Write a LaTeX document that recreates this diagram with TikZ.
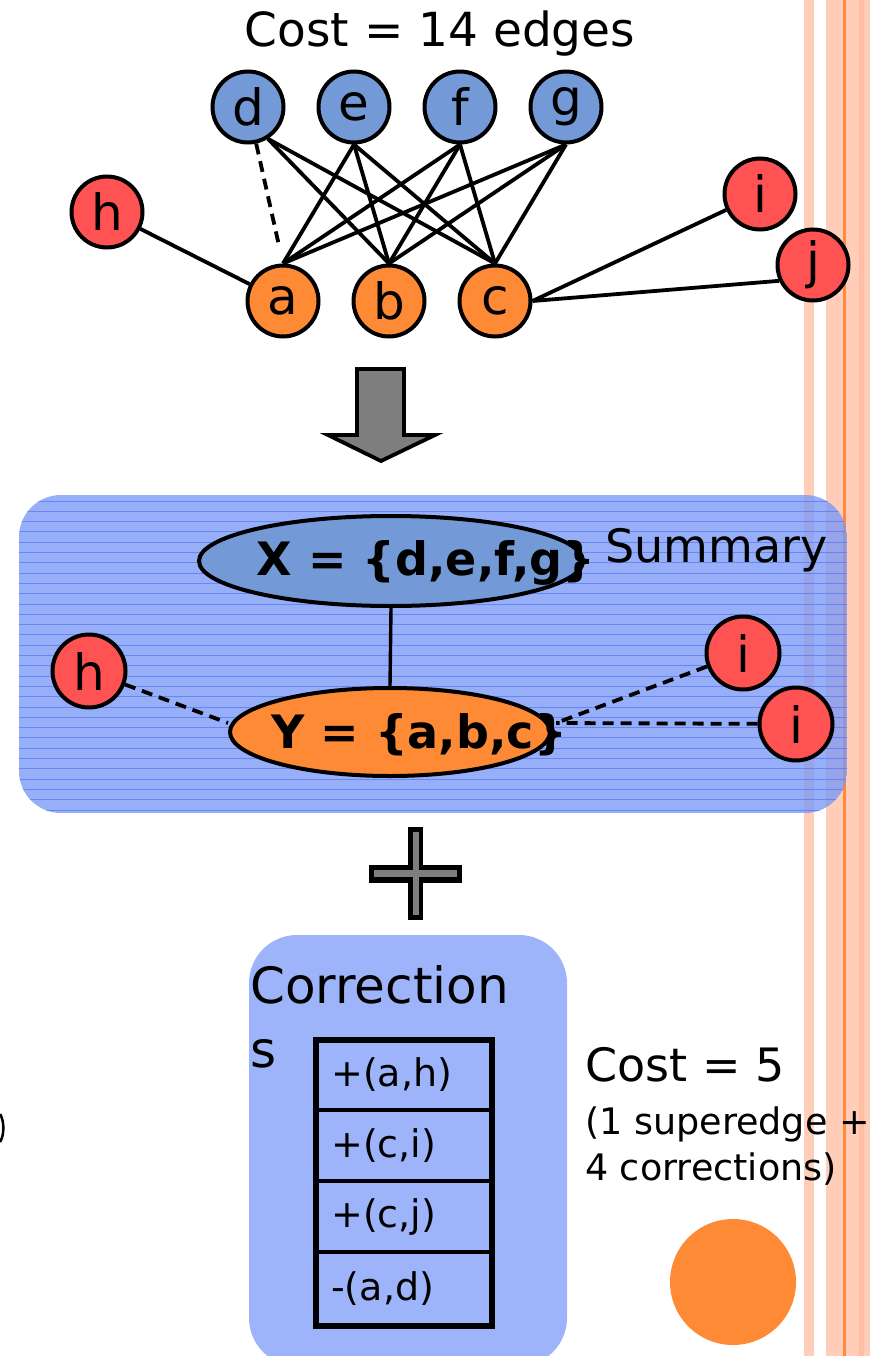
\documentclass[tikz,border=0pt]{standalone}
\usepackage{fontspec}
\setmainfont{DejaVu Sans}
\usetikzlibrary{shapes.geometric}

\definecolor{nodeblue}{HTML}{7399D6}
\definecolor{nodeorange}{HTML}{FF8A36}
\definecolor{nodered}{HTML}{FF5252}
\definecolor{boxblue}{RGB}{125,154,246}
\definecolor{boxline}{HTML}{5F7CF0}
\definecolor{corrblue}{HTML}{9EB4FA}
\definecolor{stripe}{HTML}{FFCDB8}
\definecolor{stripedark}{HTML}{FFBDA3}
\definecolor{barorange}{HTML}{FF8A3D}
\definecolor{arrowgray}{HTML}{7E7E7E}

\newcommand\fsz[1]{\fontsize{#1}{#1}\selectfont}

\tikzset{
  vtx/.style={circle, draw=black, line width=4pt, minimum size=71pt,
              inner sep=0pt, font=\fsz{50}},
  bluevtx/.style={vtx, fill=nodeblue},
  orangevtx/.style={vtx, fill=nodeorange},
  redvtx/.style={vtx, fill=nodered},
  edge/.style={line width=3.8pt},
  missing/.style={line width=3.8pt, dash pattern=on 11pt off 7pt},
  supernode/.style={ellipse, draw=black, line width=4pt, inner sep=0pt},
  setlabel/.style={font=\fsz{46}\bfseries, inner sep=0pt},
  plainlabel/.style={inner sep=0pt},
  rowtext/.style={font=\fsz{38}, anchor=west, inner sep=0pt},
}

\begin{document}
\begin{tikzpicture}[x=1pt, y=-1pt]
\useasboundingbox (0,0) rectangle (870,1356);

% page border stripes
\fill[stripe] (804,0) rectangle (814,1356);
\fill[stripe] (826,0) rectangle (870,1356);
\fill[stripedark] (859,0) rectangle (864,1356);
\fill[barorange] (843,0) rectangle (846,1356);

% ---------- original graph ----------
\node[plainlabel, font=\fsz{47}] (cost14) at (440,34) {Cost = 14 edges};

\node[bluevtx] (d) at (248,107) {d};
\node[bluevtx] (e) at (354,107) {e};
\node[bluevtx] (f) at (460,107) {f};
\node[bluevtx] (g) at (566,107) {g};
\node[redvtx] (h) at (107,212) {h};
\node[redvtx] (i) at (760,194) {i};
\node[redvtx] (j) at (813,265) {j};
\node[orangevtx] (a) at (283,301) {a};
\node[orangevtx] (b) at (389,301) {b};
\node[orangevtx] (c) at (495,301) {c};

\draw[edge] (h) -- (a);
\draw[missing, shorten >=17pt] (d) -- (a.north);
\draw[edge] (d.-58) -- (b.north);
\draw[edge] (d.-58) -- (c.north);
\foreach \u in {e,f,g}
  \foreach \v in {a,b,c}
    \draw[edge] (\u.south) -- (\v.north);
\draw[edge] (c.east) -- (i);
\draw[edge] (c.east) -- (j.205);

% ---------- down arrow ----------
\draw[line width=3.8pt, fill=arrowgray, line join=miter]
  (357,369) -- (404,369) -- (404,435) -- (435,435) -- (381,461)
  -- (328,435) -- (357,435) -- cycle;

% ---------- summary box ----------
\begin{scope}
  \clip[rounded corners=42pt] (19,495) rectangle (847,813);
  \fill[boxblue, fill opacity=0.8] (19,495) rectangle (847,813);
  \foreach \k in {0,...,30}
    \draw[boxline, line width=0.9pt, opacity=0.8]
      (19,{501+10.3*\k}) -- (847,{501+10.3*\k});
\end{scope}

\node[supernode, fill=nodeblue, minimum width=384pt, minimum height=90pt] (X) at (391,561) {};
\node[supernode, fill=nodeorange, minimum width=320pt, minimum height=88pt] (Y) at (390,732) {};
\node[setlabel] (xtext) at (426,563) {X = \{d,e,f,g\}};
\node[setlabel] (ytext) at (419,735) {Y = \{a,b,c\}};
\node[plainlabel, font=\fsz{46}, anchor=base west] (summary) at (605,562) {Summary};

\node[redvtx, minimum size=73pt] (h2) at (89,671) {h};
\node[redvtx, minimum size=73pt] (i2) at (743,653) {i};
\node[redvtx, minimum size=73pt] (i3) at (796,724) {i};
\coordinate (yr) at (556,723);

\draw[line width=3.4pt] (X.south) -- (Y.north);
\draw[missing] (h2) -- ([yshift=9pt]Y.west);
\draw[missing] (i2) -- (yr);
\draw[missing] (i3) -- (yr);

% ---------- plus sign ----------
\fill[black] (408,827) rectangle (423,920);
\fill[black] (369,865) rectangle (462,883);
\fill[arrowgray] (413,832) rectangle (419,915);
\fill[arrowgray] (374,870) rectangle (457,877);

% ---------- corrections ----------
\fill[corrblue, rounded corners=48pt] (249,935) rectangle (567,1366);
\node[plainlabel, font=\fsz{50}, anchor=base west] (corr) at (250,1003) {Correction};
\node[plainlabel, font=\fsz{50}, anchor=base west] (corrs) at (250,1067) {s};

\node[rowtext] (r1) at (331,1075) {+(a,h)};
\node[rowtext] (r2) at (331,1146) {+(c,i)};
\node[rowtext] (r3) at (331,1217) {+(c,j)};
\node[rowtext] (r4) at (331,1289) {-(a,d)};
\draw[line width=3.4pt] (316,1110) -- (492,1110);
\draw[line width=3.4pt] (316,1181) -- (492,1181);
\draw[line width=3.4pt] (316,1252) -- (492,1252);
\draw[line width=6pt] (316,1040) rectangle (492,1326);

\node[plainlabel, font=\fsz{46}, anchor=base west] (cost5) at (585,1081) {Cost = 5};
\node[plainlabel, font=\fsz{36.5}, anchor=base west] (note1) at (585,1134) {(1 superedge +};
\node[plainlabel, font=\fsz{36.5}, anchor=base west] (note2) at (585,1180) {4 corrections)};

\fill[nodeorange] (733,1282) circle (63);

% edge of a bracket cut off at the left border
\draw[line width=2.5pt] (0,1114) .. controls (4.5,1121) and (4.5,1135) .. (0,1142);
\end{tikzpicture}
\end{document}
